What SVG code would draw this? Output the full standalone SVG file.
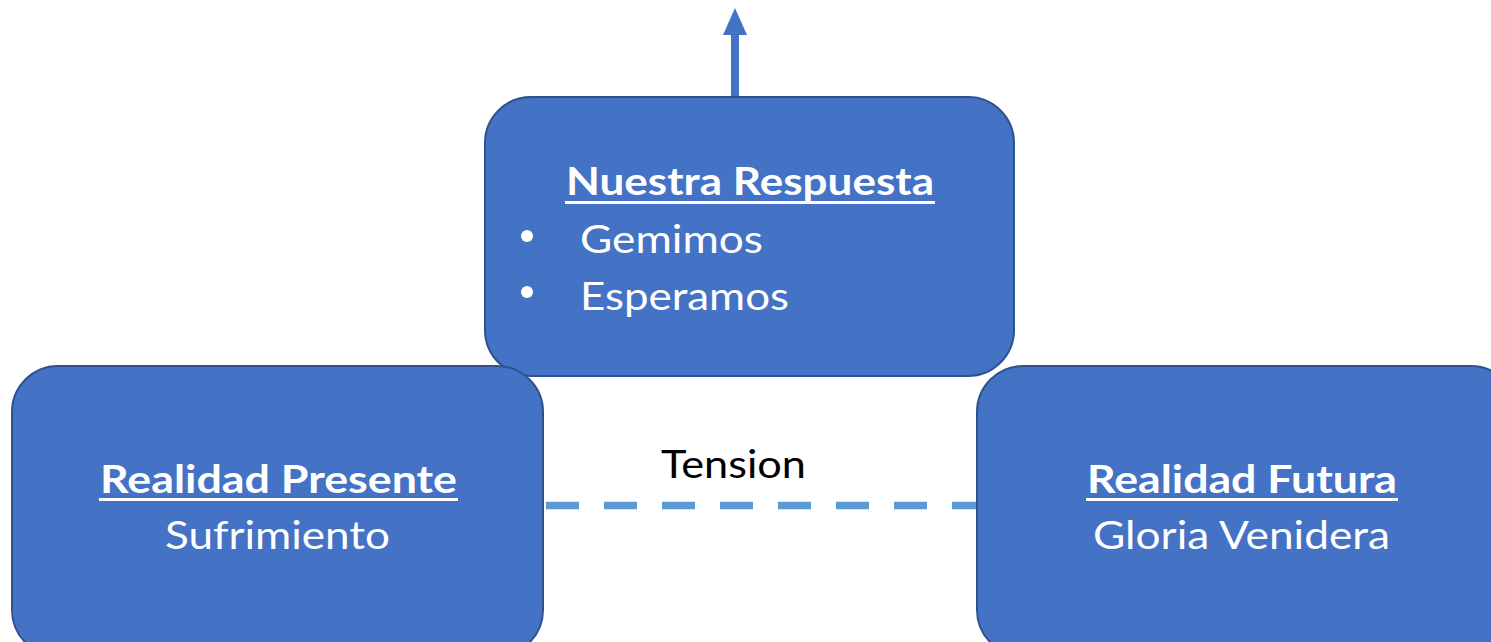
<svg xmlns="http://www.w3.org/2000/svg" width="1491" height="642" viewBox="0 0 1491 642">
<defs>
<style>
.box{fill:#4472C4;stroke:#2F528F;stroke-width:2}
.t{font-family:Lato,"Open Sans","Liberation Sans",sans-serif;font-size:39px;fill:#FFFFFF}
.b{font-weight:bold}
.ul{fill:#FFFFFF}
.lbl{font-family:Lato,"Open Sans","Liberation Sans",sans-serif;font-size:39px;fill:#000000}
</style>
</defs>
<rect width="1491" height="642" fill="#FFFFFF"/>
<g id="connectors">
<line x1="735" y1="97" x2="735" y2="34" stroke="#4472C4" stroke-width="8"/>
<path d="M723,35 L735,8 L747,35 Z" fill="#4472C4"/>
<line x1="546" y1="505.5" x2="977" y2="505.5" stroke="#5B9BD5" stroke-width="7.5" stroke-dasharray="33 25"/>
</g>
<g id="node-respuesta">
<rect class="box" x="485" y="97" width="529" height="279" rx="46" ry="46"/>
<text class="t b" x="566" y="194.5" textLength="368" lengthAdjust="spacingAndGlyphs">Nuestra Respuesta</text>
<rect class="ul" x="565" y="201" width="370" height="3"/>
<circle cx="527" cy="236" r="6" fill="#FFFFFF"/>
<text class="t" x="580" y="253" textLength="183" lengthAdjust="spacingAndGlyphs">Gemimos</text>
<circle cx="527" cy="292" r="6" fill="#FFFFFF"/>
<text class="t" x="580" y="309.5" textLength="209" lengthAdjust="spacingAndGlyphs">Esperamos</text>
</g>
<g id="node-presente">
<rect class="box" x="12" y="366" width="531" height="290" rx="46" ry="46"/>
<text class="t b" x="100" y="492.5" textLength="357" lengthAdjust="spacingAndGlyphs">Realidad Presente</text>
<rect class="ul" x="99" y="498" width="359" height="3"/>
<text class="t" x="165" y="548.5" textLength="225" lengthAdjust="spacingAndGlyphs">Sufrimiento</text>
</g>
<g id="node-futura">
<rect class="box" x="977" y="366" width="540" height="290" rx="46" ry="46"/>
<text class="t b" x="1087" y="492.5" textLength="310" lengthAdjust="spacingAndGlyphs">Realidad Futura</text>
<rect class="ul" x="1086" y="498" width="312" height="3"/>
<text class="t" x="1093" y="548.5" textLength="297" lengthAdjust="spacingAndGlyphs">Gloria Venidera</text>
</g>
<g id="label-tension">
<text class="lbl" x="661" y="478" textLength="145" lengthAdjust="spacingAndGlyphs">Tension</text>
</g>
</svg>
